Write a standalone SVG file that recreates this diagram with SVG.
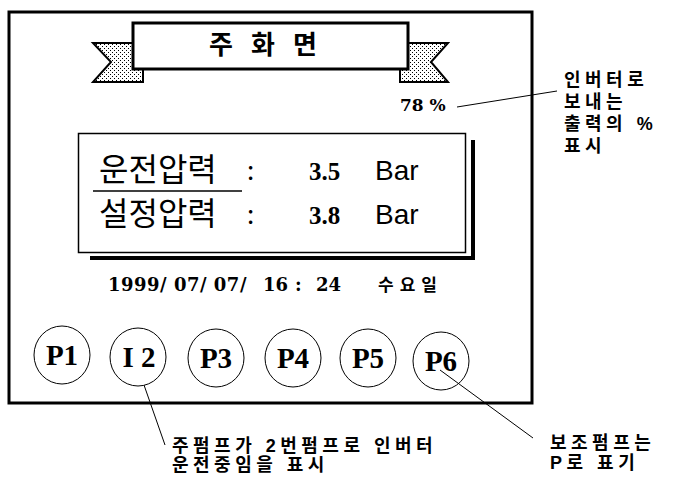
<svg xmlns="http://www.w3.org/2000/svg" width="673" height="483" viewBox="0 0 673 483">
<defs>
<pattern id="dots" width="4" height="4" patternUnits="userSpaceOnUse">
<rect width="4" height="4" fill="#fff"/>
<rect x="0" y="0" width="1" height="1" fill="#000"/>
<rect x="2" y="2" width="1" height="1" fill="#000"/>
</pattern>
</defs>
<style>
.frame{fill:none;stroke:#000;stroke-width:3}
.ribbon{fill:url(#dots);stroke:#000;stroke-width:2}
.lead{stroke:#000;stroke-width:1;fill:none}
.circ{fill:#fff;stroke:#000;stroke-width:1}
.ko{font-family:"Noto Sans CJK KR","Noto Sans",sans-serif}
.note{font-family:"Liberation Sans","Noto Sans CJK KR",sans-serif;font-weight:bold;font-size:18px;letter-spacing:4.5px}
.serif{font-family:"Liberation Serif","DejaVu Serif",serif;font-weight:bold}
.dj{font-family:"DejaVu Serif","Liberation Serif",serif;font-weight:bold}
.pl{font-family:"Liberation Serif","DejaVu Serif",serif;font-weight:bold;font-size:29px;text-anchor:middle}
</style>
<rect width="673" height="483" fill="#fff"/>
<g id="screen">
<rect class="frame" x="9" y="12" width="523" height="391"/>
</g>
<g id="title">
<polygon class="ribbon" points="93,43 133,43 133,69 143,69 143,82 93,82 111,62"/>
<polygon class="ribbon" points="448,43 408,43 408,69 400,69 400,82 448,82 431,62"/>
<rect x="133" y="23" width="275" height="46" fill="#fff" stroke="#000" stroke-width="3"/>
<text class="ko" x="272" y="54" font-size="26" font-weight="bold" text-anchor="middle" letter-spacing="18">주화면</text>
</g>
<g id="output">
<text class="dj" x="400" y="111" font-size="17">78 %</text>
</g>
<g id="pressure">
<line x1="90" y1="258" x2="475" y2="258" stroke="#000" stroke-width="4"/>
<line x1="473" y1="140" x2="473" y2="260" stroke="#000" stroke-width="4"/>
<rect x="78.5" y="133.5" width="387" height="119" fill="#fff" stroke="#000" stroke-width="1.5"/>
<line x1="93" y1="191" x2="242" y2="191" stroke="#000" stroke-width="1.5"/>
<text class="ko" x="99" y="181" font-size="32">운전압력</text>
<text class="ko" x="247" y="180" font-size="26">:</text>
<text class="serif" x="309" y="180" font-size="25">3.5</text>
<text x="375" y="180" font-family="Liberation Sans,Arial,sans-serif" font-size="28">Bar</text>
<text class="ko" x="99" y="225" font-size="32">설정압력</text>
<text class="ko" x="247" y="224" font-size="26">:</text>
<text class="serif" x="309" y="224" font-size="25">3.8</text>
<text x="375" y="224" font-family="Liberation Sans,Arial,sans-serif" font-size="28">Bar</text>
</g>
<g id="datetime">
<text class="dj" x="108" y="291" font-size="18" letter-spacing="0.5" xml:space="preserve">1999/ 07/ 07/</text>
<text class="dj" x="263" y="291" font-size="18">16</text>
<text class="dj" x="295" y="291" font-size="18">:</text>
<text class="dj" x="316" y="291" font-size="18">24</text>
<text class="ko" x="378" y="291" font-size="17" font-weight="bold" letter-spacing="6">수요일</text>
</g>
<g id="P1"><ellipse class="circ" cx="62" cy="355" rx="28" ry="29"/><text class="pl" x="62" y="365">P1</text></g>
<g id="I2"><ellipse class="circ" cx="138" cy="357" rx="28" ry="29"/><text class="pl" x="139" y="367" xml:space="preserve">I 2</text></g>
<g id="P3"><ellipse class="circ" cx="216" cy="358" rx="28" ry="29"/><text class="pl" x="216" y="368">P3</text></g>
<g id="P4"><ellipse class="circ" cx="293" cy="358" rx="28" ry="29"/><text class="pl" x="293" y="368">P4</text></g>
<g id="P5"><ellipse class="circ" cx="368" cy="358" rx="28" ry="29"/><text class="pl" x="368" y="368">P5</text></g>
<g id="P6"><ellipse class="circ" cx="441" cy="361" rx="28" ry="29"/><text class="pl" x="441" y="371">P6</text></g>
<g id="connectors">
<line class="lead" x1="457" y1="107" x2="557" y2="91"/>
<line class="lead" x1="144" y1="385" x2="165" y2="445"/>
<line class="lead" x1="440" y1="370" x2="533" y2="438"/>
</g>
<g id="note-output">
<text class="note" x="564" y="86">인버터로</text>
<text class="note" x="564" y="108">보내는</text>
<text class="note" x="564" y="130">출력의 %</text>
<text class="note" x="564" y="152">표시</text>
</g>
<g id="note-inverter">
<text class="note" x="172" y="452" font-size="15" letter-spacing="7.5">주펌프가 2번펌프로 인버터</text>
<text class="note" x="172" y="471" font-size="15" letter-spacing="7.5">운전중임을 표시</text>
</g>
<g id="note-aux">
<text class="note" x="550" y="449" font-size="17.5" letter-spacing="6">보조펌프는</text>
<text class="note" x="550" y="469" font-size="17.5" letter-spacing="6">P로 표기</text>
</g>
</svg>
